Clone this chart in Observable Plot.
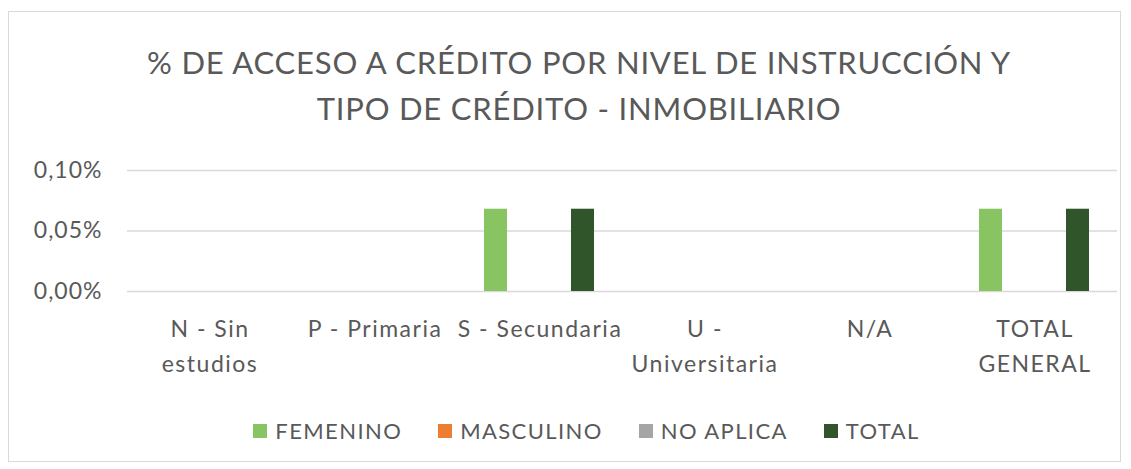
<!DOCTYPE html>
<html>
<head>
<meta charset="utf-8">
<script src="https://cdn.jsdelivr.net/npm/d3@7"></script>
<script src="https://cdn.jsdelivr.net/npm/@observablehq/plot@0.6"></script>
<style>
  html, body { margin: 0; padding: 0; background: #fff; }
  body { width: 1131px; height: 469px; position: relative; overflow: hidden; font-family: Lato, "Open Sans", sans-serif; color: #595959; }
  #frame { position: absolute; left: 8px; top: 11px; width: 1113px; height: 451px; border: 1px solid #d9d9d9; box-sizing: border-box; }
  #title { position: absolute; left: 14px; width: 1130px; top: 39px; text-align: center; font-size: 31px; letter-spacing: 0.8px; line-height: 46px; color: #595959; }
  #chart { position: absolute; left: 0; top: 150px; }
  #legend { position: absolute; left: 0; width: 1131px; top: 417px; display: flex; justify-content: center; gap: 36px; font-size: 22px; letter-spacing: 1.4px; color: #595959; padding-left: 42px; box-sizing: border-box; }
  #legend .item { display: flex; align-items: center; gap: 8px; }
  #legend .sw { width: 14px; height: 14px; display: inline-block; }
</style>
</head>
<body>
<div id="frame"></div>
<div id="title">% DE ACCESO A CRÉDITO POR NIVEL DE INSTRUCCIÓN Y<br>TIPO DE CRÉDITO - INMOBILIARIO</div>
<div id="chart"></div>
<div id="legend"></div>
<script>
const categories = ["N - Sin estudios", "P - Primaria", "S - Secundaria", "U - Universitaria", "N/A", "TOTAL GENERAL"];
const tickLabels = ["N - Sin\nestudios", "P - Primaria", "S - Secundaria", "U -\nUniversitaria", "N/A", "TOTAL\nGENERAL"];
const series = ["FEMENINO", "MASCULINO", "NO APLICA", "TOTAL"];
const femenino = [0, 0, 0.068, 0, 0, 0.068];
const masculino = [0, 0, 0, 0, 0, 0];
const noAplica = [0, 0, 0, 0, 0, 0];
const total = [0, 0, 0.068, 0, 0, 0.068];
const yTicks = [0, 0.05, 0.10];
const colors = ["#89c462", "#ed7d31", "#a5a5a5", "#30552a"];

const seriesValues = [femenino, masculino, noAplica, total];
const rows = [];
categories.forEach((c, i) => {
  series.forEach((s, j) => rows.push({category: c, series: s, value: seriesValues[j][i]}));
});
const labelOf = new Map(categories.map((c, i) => [c, tickLabels[i]]));

const chart = Plot.plot({
  width: 1131,
  height: 240,
  marginLeft: 125,
  marginRight: 13,
  marginTop: 20,
  marginBottom: 99,
  style: {fontFamily: "Lato, 'Open Sans', sans-serif", fontSize: "23px", color: "#595959", background: "transparent", overflow: "visible"},
  fx: {domain: categories, padding: 0, axis: "bottom", label: null, tickSize: 0, tickPadding: 29, tickFormat: d => labelOf.get(d)},
  x: {domain: series, axis: null, paddingInner: 0.2, paddingOuter: 0.9},
  y: {domain: [0, 0.1], ticks: yTicks, label: null, tickSize: 0, tickPadding: 25,
      tickFormat: d => d.toFixed(2).replace(".", ",") + "%"},
  color: {domain: series, range: colors},
  marks: [
    Plot.ruleY(yTicks, {stroke: "#d9d9d9", strokeWidth: 1.3}),
    Plot.barY(rows, {fx: "category", x: "series", y: "value", fill: "series"})
  ]
});
chart.querySelectorAll("text").forEach(t => {
  t.setAttribute("fill", "#595959");
  const tspans = t.querySelectorAll("tspan");
  if (tspans.length > 1) {
    t.setAttribute("letter-spacing", "1.5");
    tspans.forEach((ts, i) => { if (i > 0) ts.setAttribute("dy", "35"); });
  } else {
    const s = t.textContent;
    t.setAttribute("letter-spacing", s.includes("%") ? "1" : "1.5");
  }
});
document.getElementById("chart").appendChild(chart);

const legend = document.getElementById("legend");
series.forEach((s, i) => {
  const item = document.createElement("div");
  item.className = "item";
  const sw = document.createElement("span");
  sw.className = "sw";
  sw.style.background = colors[i];
  const lab = document.createElement("span");
  lab.textContent = s;
  item.appendChild(sw);
  item.appendChild(lab);
  legend.appendChild(item);
});
</script>
</body>
</html>
